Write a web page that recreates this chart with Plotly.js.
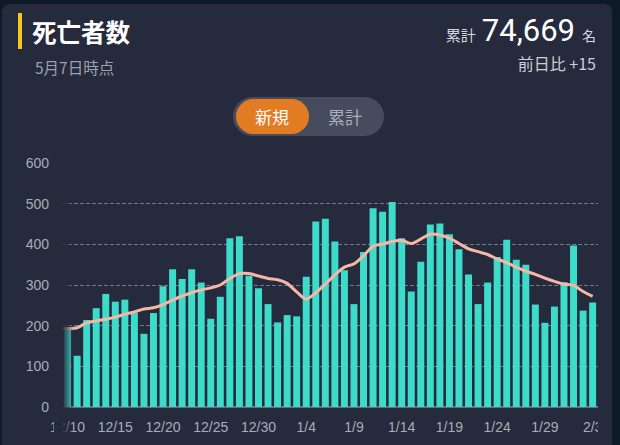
<!DOCTYPE html>
<html>
<head>
<meta charset="utf-8">
<script src="https://cdn.plot.ly/plotly-3.0.1.min.js"></script>
<style>
  html, body { margin:0; padding:0; width:620px; height:445px; overflow:hidden; background:#0e1a26; }
  #card { position:absolute; left:2px; top:4px; width:610px; height:460px; background:#252a3d; border-radius:8px; }
  #chart { position:absolute; left:0; top:0; width:620px; height:445px; }
  .t { position:absolute; white-space:nowrap; font-family:"Noto Sans CJK JP","Noto Sans",sans-serif; line-height:1; }
  #bar { position:absolute; left:18px; top:13px; width:4px; height:36px; background:#f2c81c; }
  #title { left:32px; top:20px; font-size:24.5px; font-weight:700; color:#ffffff; }
  #date { left:35px; top:60px; font-size:15.5px; color:#9ca1ad; }
  #total { right:24px; top:15px; display:flex; align-items:baseline; color:#ffffff; }
  #total .a { font-size:15px; color:#d3d6dd; margin-right:6px; }
  #total .n { font-family:Roboto,"Noto Sans",sans-serif; font-size:31px; color:#ffffff; margin-right:7px; }
  #total .m { font-size:14px; color:#d3d6dd; }
  #diff { right:24px; top:55px; font-size:16px; color:#cdd0d7; }
  #toggle { position:absolute; left:233px; top:97px; width:151px; height:39px; border-radius:20px; background:#464c5d; }
  #on { position:absolute; left:3px; top:2px; width:73px; height:35px; border-radius:18px; background:#e27b22; }
  #l1 { left:255px; top:108px; font-size:17px; color:#ffffff; }
  #l2 { left:328px; top:108px; font-size:17px; color:#a9aeb9; }
  #fadeSolid { position:absolute; left:54px; top:150px; width:8px; height:290px; background:#252a3d; }
  #fade { position:absolute; left:62px; top:150px; width:12px; height:290px; background:linear-gradient(to right, #252a3d, rgba(37,42,61,0)); }
  #clipR { position:absolute; left:598px; top:150px; width:14px; height:295px; background:#252a3d; }
</style>
</head>
<body>
<div id="card"></div>
<div id="bar"></div>
<div class="t" id="title">死亡者数</div>
<div class="t" id="date">5月7日時点</div>
<div class="t" id="total"><span class="a">累計</span><span class="n">74,669</span><span class="m">名</span></div>
<div class="t" id="diff">前日比 +15</div>
<div id="toggle"><div id="on"></div></div>
<div class="t" id="l1">新規</div>
<div class="t" id="l2">累計</div>
<div id="chart"></div>
<div id="fadeSolid"></div>
<div id="fade"></div>
<div id="clipR"></div>
<script>
// Dates of the daily bars (2022-12-10 .. 2023-02-03)
const barDates = [
 '2022-12-10','2022-12-11','2022-12-12','2022-12-13','2022-12-14','2022-12-15','2022-12-16','2022-12-17',
 '2022-12-18','2022-12-19','2022-12-20','2022-12-21','2022-12-22','2022-12-23','2022-12-24','2022-12-25',
 '2022-12-26','2022-12-27','2022-12-28','2022-12-29','2022-12-30','2022-12-31','2023-01-01','2023-01-02',
 '2023-01-03','2023-01-04','2023-01-05','2023-01-06','2023-01-07','2023-01-08','2023-01-09','2023-01-10',
 '2023-01-11','2023-01-12','2023-01-13','2023-01-14','2023-01-15','2023-01-16','2023-01-17','2023-01-18',
 '2023-01-19','2023-01-20','2023-01-21','2023-01-22','2023-01-23','2023-01-24','2023-01-25','2023-01-26',
 '2023-01-27','2023-01-28','2023-01-29','2023-01-30','2023-01-31','2023-02-01','2023-02-02','2023-02-03'
];
// New deaths per day
const dailyDeaths = [
 193,126,214,243,278,259,264,231,180,231,297,339,315,339,306,217,
 271,415,420,323,292,253,208,226,223,320,456,463,407,336,253,381,
 489,480,504,415,284,357,449,451,425,388,326,253,306,369,411,362,
 350,252,207,247,307,397,237,257
];
// Average line; begins one day before the first bar
const avgDates = ['2022-12-09'].concat(barDates);
const avgDeaths = [
 192,
 193,195,207,212,216,221,228,234,241,244,252,263,273,281,288,293,
 300,316,328,328,322,316,313,304,283,265,281,302,325,344,352,372,
 395,401,407,410,402,413,425,423,415,402,389,382,375,364,355,344,
 334,326,317,309,302,299,284,272
];
// X tick positions and labels
const tickDates = ['2022-12-10','2022-12-15','2022-12-20','2022-12-25','2022-12-30','2023-01-04',
                   '2023-01-09','2023-01-14','2023-01-19','2023-01-24','2023-01-29','2023-02-03'];
const tickLabels = ['12/10','12/15','12/20','12/25','12/30','1/4','1/9','1/14','1/19','1/24','1/29','2/3'];
const yTicks = [0,100,200,300,400,500,600];

const traces = [
  { type:'bar', x:barDates, y:dailyDeaths, marker:{color:'#3ddbca'}, hoverinfo:'skip' },
  { type:'scatter', mode:'lines', x:avgDates, y:avgDeaths,
    line:{color:'#f6b7a6', width:3, shape:'spline', smoothing:0.8}, hoverinfo:'skip' }
];
const layout = {
  width:620, height:445,
  margin:{l:62, r:22, t:163, b:38},
  paper_bgcolor:'rgba(0,0,0,0)', plot_bgcolor:'rgba(0,0,0,0)',
  showlegend:false, bargap:0.27,
  font:{family:'"Liberation Sans", Arial, sans-serif', color:'#a9adb8', size:14},
  xaxis:{ type:'date', range:['2022-12-09 10:00','2023-02-03 13:30'],
          tickmode:'array', tickvals:tickDates, ticktext:tickLabels,
          showgrid:false, zeroline:false, showline:false, ticks:'',
          ticklabelstandoff:10, tickfont:{size:14, color:'#a9adb8'} },
  yaxis:{ range:[0,600], tickmode:'array', tickvals:yTicks,
          showgrid:true, gridcolor:'rgba(150,156,172,0.7)', griddash:'4px,2px', gridwidth:1,
          zeroline:true, zerolinecolor:'#676d7e', zerolinewidth:2, showline:false, ticks:'',
          ticklabelstandoff:12, tickfont:{size:14, color:'#a9adb8'} }
};
Plotly.newPlot('chart', traces, layout, {staticPlot:true, displayModeBar:false});
</script>
</body>
</html>
